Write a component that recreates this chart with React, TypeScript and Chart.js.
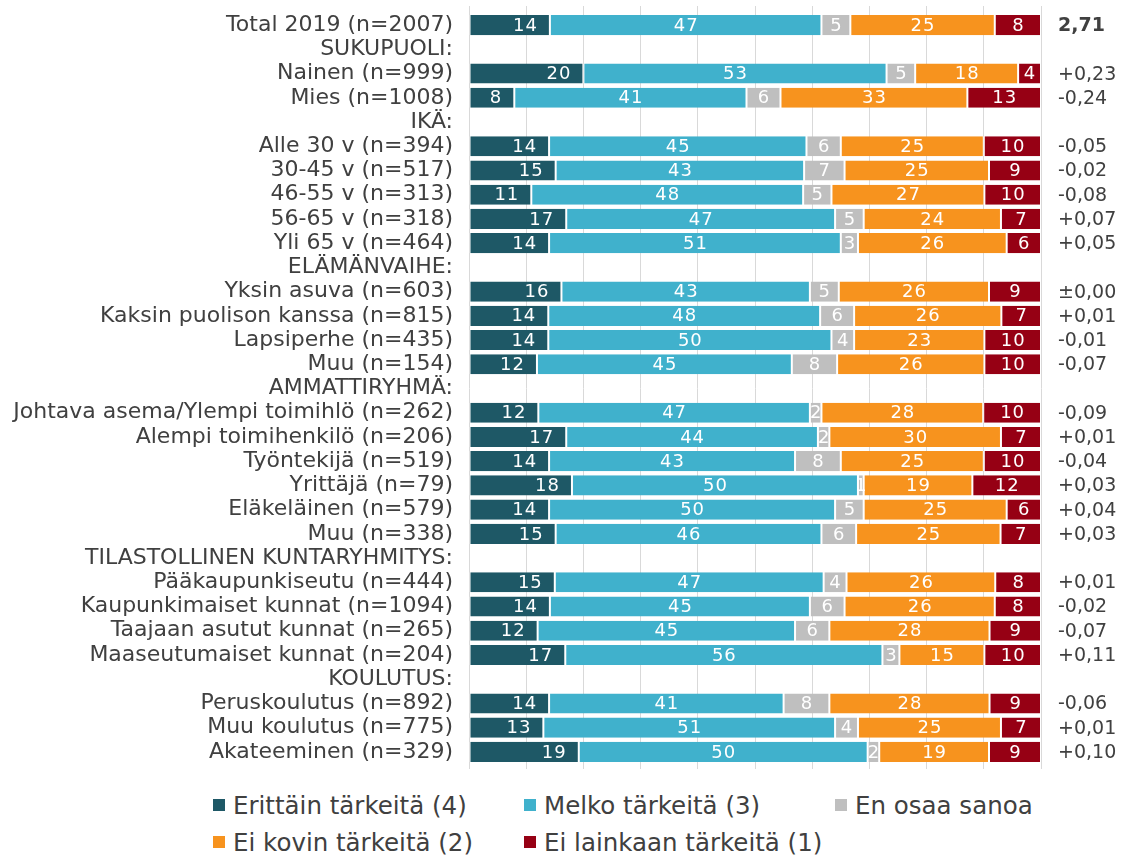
import { useEffect, useRef } from "react";
import { Chart, registerables } from "chart.js";

Chart.register(...registerables);

const FONT = "'DejaVu Sans', Verdana, sans-serif";
const TEXT = "#404040";

const categories = [
  "Total 2019 (n=2007)",
  "SUKUPUOLI:",
  "Nainen (n=999)",
  "Mies (n=1008)",
  "IKÄ:",
  "Alle 30 v (n=394)",
  "30-45 v (n=517)",
  "46-55 v (n=313)",
  "56-65 v (n=318)",
  "Yli 65 v (n=464)",
  "ELÄMÄNVAIHE:",
  "Yksin asuva (n=603)",
  "Kaksin puolison kanssa (n=815)",
  "Lapsiperhe (n=435)",
  "Muu (n=154)",
  "AMMATTIRYHMÄ:",
  "Johtava asema/Ylempi toimihlö (n=262)",
  "Alempi toimihenkilö (n=206)",
  "Työntekijä (n=519)",
  "Yrittäjä (n=79)",
  "Eläkeläinen (n=579)",
  "Muu (n=338)",
  "TILASTOLLINEN KUNTARYHMITYS:",
  "Pääkaupunkiseutu (n=444)",
  "Kaupunkimaiset kunnat (n=1094)",
  "Taajaan asutut kunnat (n=265)",
  "Maaseutumaiset kunnat (n=204)",
  "KOULUTUS:",
  "Peruskoulutus (n=892)",
  "Muu koulutus (n=775)",
  "Akateeminen (n=329)",
];

const erittain = [14, null, 20, 8, null, 14, 15, 11, 17, 14, null, 16, 14, 14, 12, null, 12, 17, 14, 18, 14, 15, null, 15, 14, 12, 17, null, 14, 13, 19];
const melko = [47, null, 53, 41, null, 45, 43, 48, 47, 51, null, 43, 48, 50, 45, null, 47, 44, 43, 50, 50, 46, null, 47, 45, 45, 56, null, 41, 51, 50];
const enOsaa = [5, null, 5, 6, null, 6, 7, 5, 5, 3, null, 5, 6, 4, 8, null, 2, 2, 8, 1, 5, 6, null, 4, 6, 6, 3, null, 8, 4, 2];
const eiKovin = [25, null, 18, 33, null, 25, 25, 27, 24, 26, null, 26, 26, 23, 26, null, 28, 30, 25, 19, 25, 25, null, 26, 26, 28, 15, null, 28, 25, 19];
const eiLainkaan = [8, null, 4, 13, null, 10, 9, 10, 7, 6, null, 9, 7, 10, 10, null, 10, 7, 10, 12, 6, 7, null, 8, 8, 9, 10, null, 9, 7, 9];

const rightValues = [
  "2,71", "", "+0,23", "-0,24", "", "-0,05", "-0,02", "-0,08", "+0,07", "+0,05",
  "", "±0,00", "+0,01", "-0,01", "-0,07", "", "-0,09", "+0,01", "-0,04", "+0,03",
  "+0,04", "+0,03", "", "+0,01", "-0,02", "-0,07", "+0,11", "", "-0,06", "+0,01", "+0,10",
];

const seriesNames = [
  "Erittäin tärkeitä (4)",
  "Melko tärkeitä (3)",
  "En osaa sanoa",
  "Ei kovin tärkeitä (2)",
  "Ei lainkaan tärkeitä (1)",
];
const seriesColors = ["#1E5866", "#40B1CC", "#BFBFBF", "#F7931E", "#960014"];
const rawSeries = [erittain, melko, enOsaa, eiKovin, eiLainkaan];

// legend grid placement (column, row) for each series
const legendCols = [0, 1, 2, 0, 1];
const legendRows = [0, 0, 0, 1, 1];

const rowTotals = categories.map((_, i) =>
  rawSeries.reduce((s, arr) => s + (arr[i] ?? 0), 0)
);

export default function App() {
  const ref = useRef<HTMLCanvasElement | null>(null);

  useEffect(() => {
    if (!ref.current) return;

    const labelPlugin = {
      id: "segLabels",
      afterDatasetsDraw(chart: any) {
        const ctx = chart.ctx as any;
        ctx.save();
        ctx.font = `18px ${FONT}`;
        ctx.letterSpacing = "1px";
        ctx.fillStyle = "#ffffff";
        ctx.textBaseline = "middle";
        chart.data.datasets.forEach((_ds: any, di: number) => {
          const meta = chart.getDatasetMeta(di);
          meta.data.forEach((el: any, i: number) => {
            const raw = rawSeries[di][i];
            if (raw == null) return;
            const { x, y, base } = el.getProps(["x", "y", "base"], true);
            if (di === 0) {
              ctx.textAlign = "right";
              ctx.fillText(String(raw), x - 12, y + 1);
            } else {
              ctx.textAlign = "center";
              ctx.fillText(String(raw), (x + base) / 2 + 0.5, y + 1);
            }
          });
        });
        ctx.letterSpacing = "0px";
        const yScale = chart.scales.y;
        ctx.fillStyle = TEXT;
        ctx.textAlign = "left";
        rightValues.forEach((v, i) => {
          if (!v) return;
          ctx.font = i === 0 ? `bold 19px ${FONT}` : `19px ${FONT}`;
          ctx.fillText(v, chart.chartArea.right + 17, yScale.getPixelForValue(i) + 1);
        });
        ctx.restore();
      },
    };

    const chart = new Chart(ref.current, {
      type: "bar",
      data: {
        labels: categories,
        datasets: rawSeries.map((arr, di) => ({
          label: seriesNames[di],
          data: arr.map((v, i) => (v == null ? null : (v / rowTotals[i]) * 100)),
          backgroundColor: seriesColors[di],
          borderColor: "#ffffff",
          borderWidth: { left: 1, right: 1, top: 0, bottom: 0 },
          borderSkipped: false,
          barPercentage: 0.83,
          categoryPercentage: 1,
        })),
      },
      options: {
        indexAxis: "y",
        animation: false,
        responsive: false,
        maintainAspectRatio: false,
        layout: { padding: { top: 6, right: 81, bottom: 11, left: 0 } },
        plugins: {
          legend: { display: false },
          tooltip: { enabled: false },
        },
        scales: {
          x: {
            type: "linear",
            position: "top",
            stacked: true,
            min: 0,
            max: 100,
            ticks: { display: false, stepSize: 10 },
            grid: { color: "#d9d9d9", lineWidth: 1, tickLength: 7, drawTicks: true },
            border: { display: false },
          },
          x2: {
            type: "linear",
            position: "bottom",
            min: 0,
            max: 100,
            ticks: { display: false, stepSize: 10 },
            grid: { color: "#d9d9d9", lineWidth: 1, tickLength: 5, drawOnChartArea: false },
            border: { display: false },
          },
          y: {
            type: "category",
            stacked: true,
            ticks: {
              autoSkip: false,
              color: TEXT,
              font: { family: FONT, size: 22 },
              padding: 16,
            },
            grid: { display: false, drawTicks: false },
            border: { display: false },
            afterFit: (s: any) => {
              s.width = 469;
              s.paddingTop = 0;
              s.paddingBottom = 0;
            },
          },
        },
      },
      plugins: [labelPlugin],
    } as any);

    return () => chart.destroy();
  }, []);

  return (
    <div
      style={{
        position: "absolute",
        left: 0,
        top: 0,
        width: 1122,
        height: 855,
        background: "#ffffff",
        fontFamily: FONT,
      }}
    >
      <canvas ref={ref} width={1122} height={780} style={{ width: 1122, height: 780, display: "block" }} />
      {seriesNames.map((name, i) => (
        <div
          key={name}
          style={{
            position: "absolute",
            left: 213 + legendCols[i] * 311,
            top: 790 + legendRows[i] * 37,
            height: 30,
            display: "flex",
            alignItems: "center",
            whiteSpace: "nowrap",
            fontSize: 24.5,
            color: TEXT,
          }}
        >
          <span
            style={{
              display: "inline-block",
              width: 12,
              height: 12,
              background: seriesColors[i],
              marginRight: 8,
            }}
          />
          <span>{name}</span>
        </div>
      ))}
    </div>
  );
}
